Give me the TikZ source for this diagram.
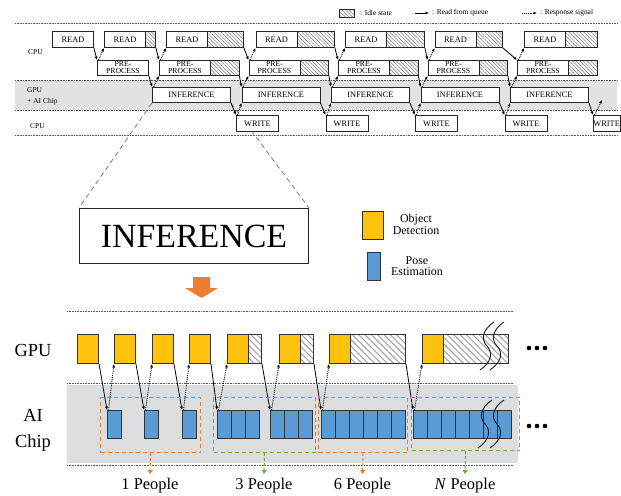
\documentclass[tikz,border=0pt]{standalone}
\usepackage{fontspec}
\setmainfont{Liberation Serif}
\usetikzlibrary{arrows.meta,patterns.meta,backgrounds}

\definecolor{detyellow}{HTML}{FFC20E}
\definecolor{poseblue}{HTML}{5B9BD5}
\definecolor{grporange}{HTML}{ED7D31}
\definecolor{grpgreen}{HTML}{70AD47}
\definecolor{bandgray}{HTML}{DCDDDE}

\tikzset{
  task/.style={draw=black!85, line width=0.9bp, fill=white, inner sep=0pt, anchor=north west,
    font=\fontsize{8.4}{6.5}\selectfont, align=center},
  idlebox/.style={draw=black!85, line width=0.9bp, inner sep=0pt, anchor=north west,
    pattern={Lines[angle=-45,distance=2.6pt,line width=0.5pt]}, pattern color=black!55},
  queuearrow/.style={-{Latex[length=3.5bp,width=3bp]}, line width=0.8bp},
  respond/.style={densely dotted, -{Latex[length=3.5bp,width=3bp]}, line width=0.9bp},
  lane/.style={black!65, densely dotted, line width=0.6bp},
  rowlabel/.style={anchor=west, inner sep=0pt, font=\fontsize{7.5}{8}\selectfont},
  legendtext/.style={anchor=west, inner sep=0pt, font=\fontsize{7.5}{8}\selectfont},
  zoomline/.style={black!50, dash pattern=on 5bp off 3.5bp, line width=0.8bp},
  detbox/.style={draw=black!80, line width=1bp, fill=detyellow, inner sep=0pt, anchor=north west,
    minimum width=21bp, minimum height=29bp},
  waitbox/.style={draw=black!80, line width=1bp, inner sep=0pt, anchor=north west, minimum height=29bp,
    pattern={Lines[angle=-45,distance=4.5pt,line width=1.1pt]}, pattern color=black!35},
  posebox/.style={draw=black!80, line width=1bp, fill=poseblue, inner sep=0pt, anchor=north west,
    minimum width=14bp, minimum height=28bp},
  grpbox/.style={dash pattern=on 4bp off 3bp, line width=1bp, inner sep=0pt, anchor=north west,
    minimum height=55bp},
  peoplelabel/.style={anchor=north, inner sep=0pt, font=\fontsize{16.5}{18}\selectfont},
  breakmark/.style={line width=0.9bp, black!90},
}

\begin{document}
\begin{tikzpicture}[x=1bp,y=-1bp]
\useasboundingbox (0,0) rectangle (621,496);

% legend on top
\node[idlebox, minimum width=15bp, minimum height=8bp] (legidle) at (339,9) {};
\node[legendtext] (legidletext) at (360,13) {: Idle state};
\coordinate (legq1) at (415,13);
\coordinate (legq2) at (429,13);
\draw[queuearrow] (legq1) -- (legq2);
\node[legendtext] (legqtext) at (432,13) {: Read from queue};
\coordinate (legr1) at (522,13);
\coordinate (legr2) at (537,13);
\draw[respond] (legr1) -- (legr2);
\node[legendtext] (legrtext) at (540,13) {: Response signal};

% lanes
\foreach \ly in {23,80,110,135}
    \draw[lane] (15,\ly) -- (617,\ly);
\node[rowlabel] (cpu1) at (28,52) {CPU};
\node[rowlabel] (gpu1) at (27,90) {GPU};
\node[rowlabel] (aichip1) at (27,102) {+ AI Chip};
\node[rowlabel] (cpu2) at (30,126) {CPU};

% READ row
\foreach \i/\x/\e in {1/52/93, 2/104/155, 3/166/243, 4/255.5/334, 5/345/424, 6/434.5/502, 7/524/597} {
    \node[idlebox, minimum width={(\e-\x-41)*1bp}, minimum height=16bp] (readidle\i) at ({\x+41},31) {};
    \node[task, minimum width=41bp, minimum height=16bp] (read\i) at (\x,31) {READ};
}
% PRE-PROCESS row
\foreach \i/\x/\e in {1/97/148, 2/159/238.5, 3/248.5/328, 4/338/417.5, 5/427.5/507, 6/517/597} {
    \node[idlebox, minimum width={(\e-\x-51)*1bp}, minimum height=15bp] (preidle\i) at ({\x+51},60) {};
    \node[task, minimum width=51bp, minimum height=15bp, font=\fontsize{7.8}{6.6}\selectfont]
        (pre\i) at (\x,60) {PRE-\\[0.4pt]PROCESS};
}
% INFERENCE row
\foreach \i/\x in {1/152, 2/241.5, 3/331, 4/420.5, 5/510}
    \node[task, minimum width=78bp, minimum height=15bp] (inf\i) at (\x,87) {INFERENCE};
% WRITE row
\foreach \i/\x in {1/236, 2/325.5, 3/415, 4/504.5}
    \node[task, minimum width=42bp, minimum height=16bp] (write\i) at (\x,115) {WRITE};
\node[task, minimum width=26bp, minimum height=16bp] (write5) at (593,115) {WRITE};
\coordinate (nextinf) at (602,100);

% read from queue / response signal
\foreach \i [evaluate=\i as \j using int(\i+1)] in {1,...,6} {
    \draw[queuearrow] (readidle\i.south east) -- (pre\i.north west);
    \draw[respond] ([xshift=1.5bp]pre\i.north west) -- (read\j.south west);
}
\foreach \i [evaluate=\i as \j using int(\i+1)] in {1,...,5} {
    \draw[queuearrow] (preidle\i.south east) -- (inf\i.north west);
    \draw[respond] ([xshift=1.5bp]inf\i.north west) -- (pre\j.south west);
    \draw[queuearrow] (inf\i.south east) -- (write\i.north west);
}
\foreach \i [evaluate=\i as \j using int(\i+1)] in {1,...,4}
    \draw[respond] ([xshift=1.5bp]write\i.north west) -- (inf\j.south west);
\draw[respond] ([xshift=1.5bp]write5.north west) -- (nextinf);

% zoomed INFERENCE
\node[draw=black!85, line width=1bp, anchor=north west, inner sep=0pt, minimum width=229bp,
    minimum height=55bp, font=\fontsize{34}{34}\selectfont] (bigbox) at (79,208) {INFERENCE};
\fill[grporange] (193,277) -- (210,277) -- (210,288) -- (218,288) -- (201.5,298) -- (185,288) -- (193,288) -- cycle;

% legend of the two models
\node[detbox, minimum height=28bp] (legdet) at (362,211) {};
\node[posebox, minimum width=13bp] (legpose) at (367,252) {};
\node[align=center, inner sep=0pt, font=\fontsize{12}{12}\selectfont] (legdettext) at (416,224) {Object\\Detection};
\node[align=center, inner sep=0pt, font=\fontsize{12}{11.5}\selectfont] (legposetext) at (417,266) {Pose\\Estimation};

% GPU / AI chip lanes
\foreach \ly in {311,383,465}
    \draw[lane] (67,\ly) -- (513,\ly);
\node[font=\fontsize{18.5}{20}\selectfont] (gpu2) at (33,350) {GPU};
\node[align=center, font=\fontsize{18.5}{26}\selectfont] (aichip2) at (33,430) {AI\\Chip};

% object detection on GPU
\foreach \i/\x/\e in {1/77/98, 2/114/135, 3/152/173, 4/189/210, 5/227/261, 6/279/313, 7/329/405, 8/422/508} {
    \node[waitbox, minimum width={(\e-\x-21)*1bp}] (wait\i) at ({\x+21},334) {};
    \node[detbox] (det\i) at (\x,334) {};
}
% pose estimation on AI chip
\foreach \i/\x/\n in {1/107/1, 2/144/1, 3/182/1, 4/217/3, 5/270/3, 6/321/6, 7/413/7}
    \foreach \m in {1,...,\n}
        \node[posebox] (pose\i-\m) at ({\x+14*(\m-1)},410) {};

\foreach \i [evaluate=\i as \j using int(\i+1)] in {1,...,7} {
    \draw[queuearrow] (wait\i.south east) -- (pose\i-1.north west);
    \draw[respond] ([xshift=1.5bp]pose\i-1.north west) -- (det\j.south west);
}

% breaks and dots
\foreach \wx/\wy in {487/322, 497/322, 485/400, 497/400}
    \draw[breakmark] (\wx+7,\wy) .. controls (\wx-5,\wy+8) and (\wx-6,\wy+18) .. (\wx,\wy+24)
        .. controls (\wx+6,\wy+30) and (\wx+5,\wy+40) .. (\wx-7,\wy+48);
\foreach \dy in {348,426}
    \foreach \dx in {529,537,545}
        \fill (\dx,\dy) circle (2.3);

% people groups
\node[grpbox, draw=grporange, minimum width=100bp] (grp1) at (100,397) {};
\node[grpbox, draw=grpgreen, minimum width=102bp] (grp2) at (213,397) {};
\node[grpbox, draw=grporange, minimum width=89bp] (grp3) at (318,397) {};
\node[grpbox, draw=grpgreen, minimum width=108bp, minimum height=53bp] (grp4) at (411,397) {};
\foreach \i/\x/\txt/\c in {1/150/1 People/grporange, 2/264/3 People/grpgreen,
        3/362.5/6 People/grporange, 4/465/\textit{N} People/grpgreen} {
    \node[peoplelabel] (people\i) at (\x,478) {\txt};
    \draw[color=\c, line width=1bp, dash pattern=on 3bp off 2bp, shorten >=4bp,
        -{Triangle[length=4bp,width=5bp]}] (grp\i.south) -- (people\i.north);
}

\begin{pgfonlayer}{background}
    \fill[bandgray!85] (15,80) rectangle (617,110);
    \fill[bandgray] (67,385) rectangle (518,463);
    \draw[zoomline] (inf1.south west) -- (bigbox.north west);
    \draw[zoomline] (inf1.south east) -- (bigbox.north east);
\end{pgfonlayer}
\end{tikzpicture}
\end{document}
